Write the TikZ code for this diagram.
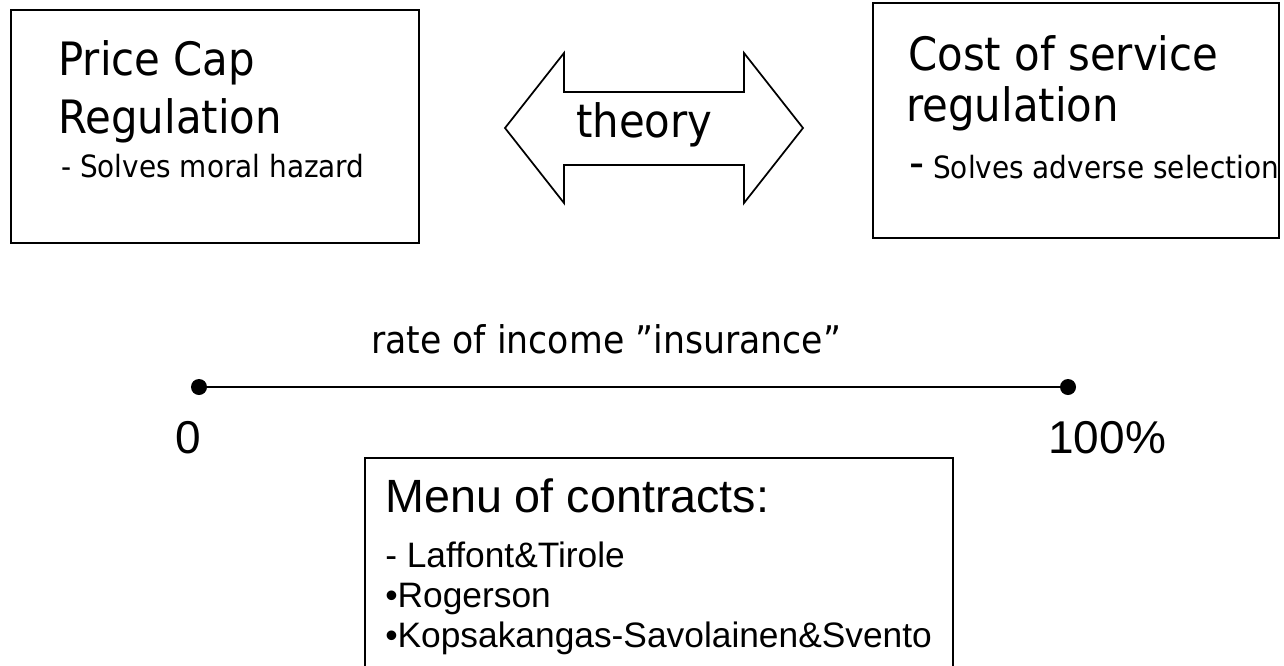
\documentclass[tikz,border=0pt]{standalone}
\usepackage{fontspec}
\setmainfont{DejaVu Sans}[FakeStretch=0.91]
\newfontfamily\arialfam{Liberation Sans}
\newcommand{\pxunit}{0.75pt}
\newcommand{\bigdash}{{\fontsize{34.5}{40}\selectfont -}}
\tikzset{
    boxsty/.style={draw,rectangle,line width=1.5pt,inner sep=0pt,anchor=north west},
    bigsty/.style={inner sep=0pt,anchor=base west,font=\fontsize{34.5}{40}\selectfont},
    smallsty/.style={inner sep=0pt,anchor=base west,font=\fontsize{23}{26}\selectfont},
    axissty/.style={inner sep=0pt,anchor=base west,font=\fontsize{28.6}{32}\selectfont},
    ticksty/.style={inner sep=0pt,anchor=base west,font=\arialfam\fontsize{34.5}{40}\selectfont},
    menusty/.style={inner sep=0pt,anchor=base west,font=\arialfam\fontsize{35}{40}\selectfont},
    itemsty/.style={inner sep=0pt,anchor=base west,font=\arialfam\fontsize{26.5}{30}\selectfont},
    dotsty/.style={circle,fill,inner sep=0pt,minimum size=16*\pxunit},
    arrsty/.style={line width=1.3pt,line join=miter},
}

\begin{document}
\begin{tikzpicture}[x=\pxunit,y=-\pxunit]
\useasboundingbox (0,0) rectangle (1284,665);
\clip (0,0) rectangle (1284,665);

% price cap box
\node[boxsty,minimum width=408*\pxunit,minimum height=233*\pxunit] (pcbox) at (10,9) {};
\node[bigsty] (pcl1) at (58,75) {Price Cap};
\node[bigsty] (pcl2) at (58,133) {Regulation};
\node[smallsty] (pcl3) at (61,177) {- Solves moral hazard};

% cost of service box
\node[boxsty,minimum width=406*\pxunit,minimum height=235*\pxunit] (csbox) at (872,2) {};
\node[bigsty] (csl1) at (908,70) {Cost of service};
\node[bigsty] (csl2) at (906,121) {regulation};
\node[smallsty] (csl3) at (909,178) {\bigdash\ Solves adverse selection};

% double arrow
\draw[arrsty] (505,128) -- (564,53) -- (564,92) -- (744,92) -- (744,53) -- (803,128)
    -- (744,203) -- (744,165) -- (564,165) -- (564,203) -- cycle;
\node[bigsty] (theorylbl) at (576,137) {theory};

% scale
\node[axissty] (axislbl) at (371,353) {rate of income ''insurance''};
\node[dotsty] (zerodot) at (199,387) {};
\node[dotsty] (fulldot) at (1068,387) {};
\draw[line width=1.3pt] (zerodot) -- (fulldot);
\node[ticksty] (zerolbl) at (175,453) {0};
\node[ticksty] (fulllbl) at (1048,453) {100\%};

% menu box
\node[boxsty,minimum width=588*\pxunit,minimum height=260*\pxunit] (menubox) at (364,457) {};
\node[menusty] (menul1) at (385,512) {Menu of contracts:};
\node[itemsty] (menul2) at (385,567) {- Laffont\&Tirole};
\node[itemsty] (menul3) at (385,607) {•Rogerson};
\node[itemsty] (menul4) at (385,647) {•Kopsakangas-Savolainen\&Svento};
\end{tikzpicture}
\end{document}
